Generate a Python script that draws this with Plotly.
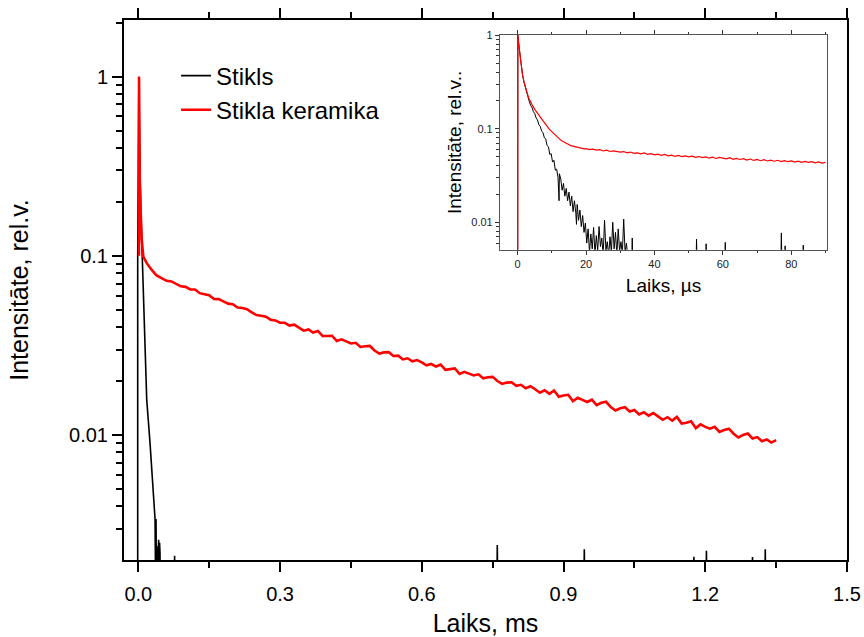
import plotly.graph_objects as go

# ---------------- main plot data (time in ms) ----------------
stikls_t = [-0.0013, -0.0013, 0.0012, 0.0036, 0.0072, 0.0106, 0.0142, 0.0178, 0.0248, 0.0318, 0.0354,
            0.0362, 0.0370, 0.0375, 0.0380, 0.0390, 0.0400, 0.0410, 0.0420, 0.0430, 0.0440, 0.0450, 0.0459, 0.0465,
            0.0760, 0.0768, 0.0776,
            0.7590, 0.7598, 0.7606,
            0.9432, 0.9440, 0.9448,
            1.1752, 1.1760, 1.1768,
            1.2017, 1.2025, 1.2033,
            1.2992, 1.3000, 1.3008,
            1.3262, 1.3270, 1.3278,
            1.3500]
stikls_v = [0.0005, 0.1, 1.0, 0.278, 0.123, 0.058, 0.0274, 0.0157, 0.0090, 0.0051, 0.0034,
            0.0019, 0.0030, 0.0034, 0.0020, 0.0024, 0.0019, 0.0023, 0.0020, 0.0026, 0.0019, 0.0025, 0.0022, 0.0015,
            0.0015, 0.00212, 0.0015,
            0.0015, 0.00243, 0.0015,
            0.0015, 0.00230, 0.0015,
            0.0015, 0.00209, 0.0015,
            0.0015, 0.00226, 0.0015,
            0.0015, 0.00208, 0.0015,
            0.0015, 0.00230, 0.0015,
            0.0015]

keram_t_head = [0.0012, 0.0015, 0.0021, 0.0029, 0.0043, 0.0072, 0.0106, 0.0178, 0.0284, 0.038]
keram_v_head = [0.1, 1.0, 0.53, 0.277, 0.197, 0.123, 0.099, 0.091, 0.0834, 0.078]
keram_t_tail = [round(0.05 + 0.01 * i, 2) for i in range(131)]
keram_v_tail = [
    # 0.05 - 0.30
    0.0749, 0.0725, 0.0720, 0.0698, 0.0676, 0.0671, 0.0650, 0.0649, 0.0619, 0.0611,
    0.0603, 0.0574, 0.0573, 0.0557, 0.0541, 0.0537, 0.0515, 0.0511, 0.0503, 0.0483,
    0.0467, 0.0463, 0.0457, 0.0440, 0.0436, 0.0423,
    # 0.31 - 0.80
    0.0423, 0.0408, 0.0413, 0.0397, 0.0382, 0.0388, 0.0373, 0.0381, 0.0357, 0.0357,
    0.0358, 0.0335, 0.0342, 0.0333, 0.0324, 0.0327, 0.0310, 0.0313, 0.0314, 0.0296,
    0.0285, 0.0289, 0.0290, 0.0276, 0.0277, 0.0264, 0.0268, 0.0258, 0.0262, 0.0254,
    0.0245, 0.0249, 0.0241, 0.0247, 0.0231, 0.0233, 0.0235, 0.0219, 0.0225, 0.0220,
    0.0215, 0.0218, 0.0207, 0.0210, 0.0211, 0.0200, 0.0193, 0.0196, 0.0197, 0.0188,
    # 0.81 - 1.35
    0.01906, 0.01824, 0.01871, 0.01800, 0.01720, 0.01775, 0.01696, 0.01771, 0.01633, 0.01660,
    0.01676, 0.01542, 0.01612, 0.01570, 0.01528, 0.01573, 0.01468, 0.01511, 0.01532, 0.01430,
    0.01370, 0.01410, 0.01429, 0.01351, 0.01379, 0.01302, 0.01338, 0.01282, 0.01326, 0.01270,
    0.01215, 0.01257, 0.01203, 0.01261, 0.01157, 0.01170, 0.01192, 0.01092, 0.01146, 0.01110,
    0.01085, 0.01110, 0.01040, 0.01065, 0.01084, 0.01016, 0.00968, 0.01000, 0.01018, 0.00956,
    0.00973, 0.00923, 0.00943, 0.00907, 0.00935]
keram_t = keram_t_head + keram_t_tail
keram_v = keram_v_head + keram_v_tail

# ---------------- inset data (time in microseconds) ----------------
in_stikls_t = [0, 0.05, 0.4, 0.9, 1.4, 1.85, 2.3, 2.83, 3.3, 3.8, 4.2, 4.6, 5.0, 5.4, 5.8, 6.2, 6.6, 7.0, 7.4,
               7.8, 8.2, 8.6, 9.0, 9.4, 9.8, 10.2, 10.6, 11.0, 11.4, 11.8, 12.1, 12.2, 12.6, 13.0, 13.4, 13.8,
               14.2, 14.6, 15.0, 15.4, 15.8, 16.2, 16.6, 17.0, 17.2, 17.4, 17.8, 18.2, 18.6, 19.0, 19.4, 19.8,
               20.2, 20.6, 21.0, 21.4, 21.8, 22.2, 22.6, 23.0, 23.4, 23.8, 24.2, 24.6, 25.0, 25.4, 25.8, 26.2,
               26.6, 27.0, 27.4, 27.8, 28.2, 28.6, 29.0, 29.4, 29.8, 30.2, 30.6, 31.0, 31.4, 31.8, 32.2, 32.6,
               33.3, 33.5, 33.7, 52.1, 52.3, 52.5, 54.9, 55.1, 55.3, 60.5, 60.7, 60.9, 76.9, 77.1, 77.3,
               78.0, 78.2, 78.4, 83.3, 83.5, 83.7, 90.0]
in_stikls_v = [0.001, 1.0, 0.75, 0.50, 0.38, 0.316, 0.27, 0.232, 0.200, 0.177, 0.168, 0.152, 0.145, 0.130, 0.124,
               0.110, 0.106, 0.094, 0.091, 0.080, 0.078, 0.066, 0.064, 0.053, 0.054, 0.044, 0.046, 0.036, 0.037,
               0.030, 0.017, 0.033, 0.029, 0.022, 0.026, 0.019, 0.023, 0.017, 0.021, 0.015, 0.019, 0.013, 0.017,
               0.0125, 0.0095, 0.0155, 0.0105, 0.0135, 0.0090, 0.0118, 0.0078, 0.0098, 0.0060, 0.0085, 0.0048,
               0.0075, 0.0052, 0.0088, 0.0046, 0.0072, 0.0050, 0.0090, 0.0055, 0.0068, 0.0045, 0.0105, 0.0050,
               0.0062, 0.0044, 0.0070, 0.0048, 0.0100, 0.0052, 0.0078, 0.0045, 0.0085, 0.0049, 0.0062, 0.0046,
               0.0108, 0.0048, 0.0060, 0.0040, 0.0030,
               0.003, 0.0068, 0.003, 0.003, 0.0066, 0.003, 0.003, 0.0059, 0.003, 0.003, 0.0061, 0.003,
               0.003, 0.0077, 0.003, 0.003, 0.0056, 0.003, 0.003, 0.0057, 0.003, 0.003]

in_keram_t_head = [0, 0.05, 0.4, 0.9, 1.4, 1.85, 2.3, 2.83, 3.3, 3.8, 4.5, 5.2, 5.76, 6.5, 7.1, 7.7, 8.5, 9.1,
                   9.66, 10.5, 11.0, 11.6, 12.5, 13.0, 13.6, 14.5, 15.5, 16.5, 17.5, 18.5, 19.5]
in_keram_v_head = [0.001, 1.0, 0.75, 0.50, 0.38, 0.316, 0.27, 0.237, 0.21, 0.192, 0.172, 0.157, 0.147, 0.134,
                   0.125, 0.117, 0.106, 0.100, 0.0955, 0.089, 0.085, 0.081, 0.076, 0.074, 0.0716, 0.069, 0.066,
                   0.0644, 0.063, 0.0625, 0.061]
in_keram_t_tail = list(range(20, 91))
in_keram_v_tail = [
    0.0612, 0.0598, 0.0605, 0.0590, 0.0596, 0.0578, 0.0589, 0.0571, 0.0580, 0.0566,
    0.0562, 0.0570, 0.0551, 0.0563, 0.0545, 0.0552, 0.0539, 0.0550, 0.0531, 0.0541,
    0.0526, 0.0535, 0.0519, 0.0530, 0.0512, 0.0521, 0.0507, 0.0518, 0.0502, 0.0511,
    0.0499, 0.0509, 0.0494, 0.0504, 0.0490, 0.0500, 0.0484, 0.0497, 0.0481, 0.0494,
    0.0483, 0.0476, 0.0490, 0.0470, 0.0482, 0.0469, 0.0478, 0.0463, 0.0474, 0.0458,
    0.0470, 0.0455, 0.0466, 0.0452, 0.0462, 0.0449, 0.0460, 0.0446, 0.0456, 0.0444,
    0.0452, 0.0440, 0.0450, 0.0437, 0.0447, 0.0436, 0.0445, 0.0432, 0.0441, 0.0429,
    0.0436]
in_keram_t = in_keram_t_head + in_keram_t_tail
in_keram_v = in_keram_v_head + in_keram_v_tail

# ---------------- tick labels ----------------
main_x_ticks = [0.0, 0.3, 0.6, 0.9, 1.2, 1.5]
main_x_labels = ["0.0", "0.3", "0.6", "0.9", "1.2", "1.5"]
main_x_minor = [0.15, 0.45, 0.75, 1.05, 1.35]
y_ticks = [0.01, 0.1, 1]
y_labels = ["0.01", "0.1", "1"]
main_y_minor = [m * d for d in (0.001, 0.01, 0.1, 1) for m in range(2, 10)]
in_x_ticks = [0, 20, 40, 60, 80]
in_x_minor = [10, 30, 50, 70, 90]
in_y_minor = [m * d for d in (0.001, 0.01, 0.1) for m in range(2, 10)]

FONT = "Arial, Liberation Sans, sans-serif"

fig = go.Figure()
fig.add_trace(go.Scatter(x=stikls_t, y=stikls_v, mode="lines", name="Stikls",
                         line=dict(color="black", width=1.6), xaxis="x", yaxis="y"))
fig.add_trace(go.Scatter(x=keram_t, y=keram_v, mode="lines", name="Stikla keramika",
                         line=dict(color="#ff0000", width=2.6), xaxis="x", yaxis="y"))
fig.add_trace(go.Scatter(x=in_stikls_t, y=in_stikls_v, mode="lines", showlegend=False,
                         line=dict(color="black", width=1), xaxis="x2", yaxis="y2"))
fig.add_trace(go.Scatter(x=in_keram_t, y=in_keram_v, mode="lines", showlegend=False,
                         line=dict(color="#ff0000", width=1.2), xaxis="x2", yaxis="y2"))

main_axis_common = dict(showgrid=False, zeroline=False, showline=True, linecolor="black", linewidth=2,
                        ticks="outside", ticklen=10, tickwidth=2, tickcolor="black", automargin=False,
                        tickfont=dict(family=FONT, size=20, color="black"))

fig.update_layout(
    width=864, height=637,
    margin=dict(l=124, r=17, t=20, b=77),
    paper_bgcolor="white", plot_bgcolor="white",
    font=dict(family=FONT, color="black"),
    showlegend=True,
    legend=dict(x=0.072, y=0.938, xanchor="left", yanchor="top", bgcolor="rgba(0,0,0,0)",
                font=dict(family=FONT, size=24, color="black"), tracegroupgap=0),
    xaxis=dict(domain=[0, 1], range=[-0.0303, 1.5], tickmode="array", tickvals=main_x_ticks,
               ticktext=main_x_labels, mirror="ticks", ticklabelstandoff=5,
               minor=dict(tickmode="array", tickvals=main_x_minor, ticks="outside", ticklen=6,
                          tickwidth=2, tickcolor="black"),
               title=dict(text="Laiks, ms", font=dict(family=FONT, size=25), standoff=28),
               **main_axis_common),
    yaxis=dict(domain=[0, 1], type="log", range=[-2.698, 0.3165], tickmode="array", tickvals=y_ticks,
               ticktext=y_labels, mirror=True,
               minor=dict(tickmode="array", tickvals=main_y_minor, ticks="outside", ticklen=6,
                          tickwidth=2, tickcolor="black"),
               title=dict(text="Intensitāte, rel.v.", font=dict(family=FONT, size=25), standoff=33),
               **main_axis_common),
    xaxis2=dict(domain=[0.5199, 0.9726], anchor="y2", range=[-5.2, 90.5], tickmode="array",
                tickvals=in_x_ticks, showgrid=False, zeroline=False, showline=True, linecolor="#555555",
                linewidth=1, mirror="ticks", ticks="outside", ticklen=4, tickwidth=1, tickcolor="#333333",
                automargin=False,
                minor=dict(tickmode="array", tickvals=in_x_minor, ticks="outside", ticklen=2.5,
                           tickwidth=1, tickcolor="#333333"),
                tickfont=dict(family=FONT, size=11, color="#222222"),
                title=dict(text="Laiks, µs", font=dict(family=FONT, size=19), standoff=9)),
    yaxis2=dict(domain=[0.5746, 0.9722], anchor="x2", type="log", range=[-2.293, 0.001], tickmode="array",
                tickvals=y_ticks, ticktext=y_labels, showgrid=False, zeroline=False, showline=True,
                linecolor="#555555", linewidth=1, mirror=True, ticks="outside", ticklen=4, tickwidth=1,
                tickcolor="#333333", automargin=False,
                minor=dict(tickmode="array", tickvals=in_y_minor, ticks="outside", ticklen=2.5,
                           tickwidth=1, tickcolor="#333333"),
                tickfont=dict(family=FONT, size=11, color="#222222"),
                title=dict(text="Intensitāte, rel.v..", font=dict(family=FONT, size=19), standoff=4)),
)

fig.write_html("out.html")
